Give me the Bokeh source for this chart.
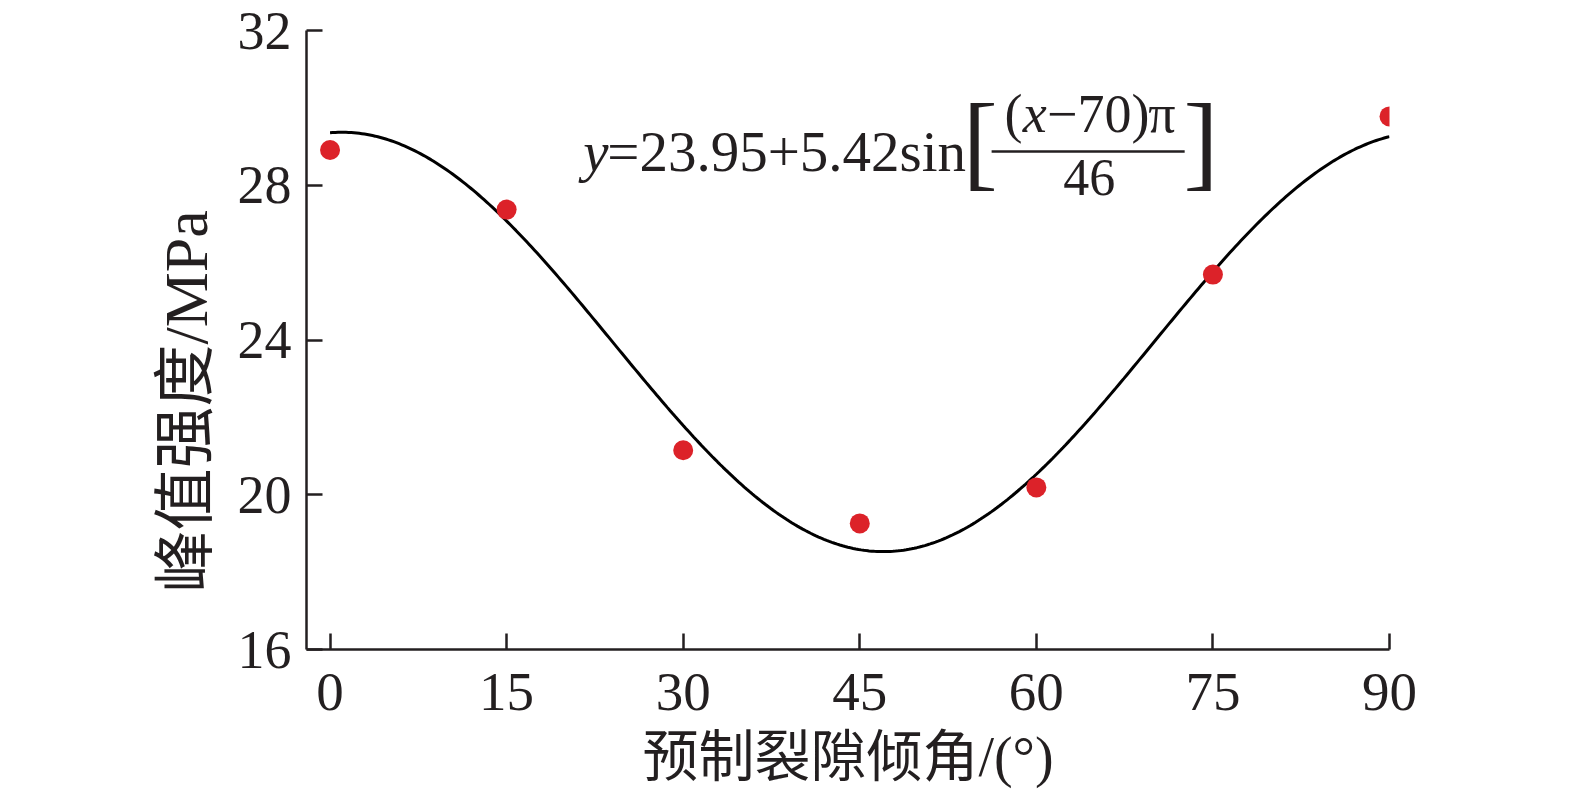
import numpy as np
from bokeh.plotting import figure
from bokeh.models import FixedTicker, Label, Title
from bokeh.embed import file_html
from bokeh.resources import INLINE

# ---- data ----
angles = [0, 15, 30, 45, 60, 75, 90]
strength = [28.91, 27.37, 21.15, 19.26, 20.19, 25.69, 29.78]
x_ticks = [0, 15, 30, 45, 60, 75, 90]
y_ticks = [16, 20, 24, 28, 32]
x_title = "预制裂隙倾角/(°)"
y_title = "峰值强度/MPa"
# fitted curve shown in the chart: y = A + B*sin[(x-C)*pi/D]
fit_A, fit_B, fit_C, fit_D = 23.95, 5.42, 70, 46

SERIF = "Liberation Serif, Noto Sans CJK SC"
INK = "#231f20"

p = figure(width=1572, height=790, x_range=(-2, 90), y_range=(16, 32),
           output_backend="svg", toolbar_location=None,
           min_border_left=306, min_border_right=183,
           min_border_top=30, min_border_bottom=140)
p.outline_line_color = None
p.grid.visible = False
p.background_fill_color = "white"
p.border_fill_color = "white"

for ax in (p.xaxis[0], p.yaxis[0]):
    ax.axis_line_width = 2.5
    ax.axis_line_color = INK
    ax.major_tick_line_width = 2.5
    ax.major_tick_line_color = INK
    ax.major_tick_in = 16
    ax.major_tick_out = 0
    ax.minor_tick_in = 0
    ax.minor_tick_out = 0
    ax.major_label_text_font = "Liberation Serif"
    ax.major_label_text_color = INK
p.xaxis.major_label_text_font_size = "55px"
p.yaxis.major_label_text_font_size = "54px"

p.xaxis.ticker = FixedTicker(ticks=x_ticks)
p.yaxis.ticker = FixedTicker(ticks=y_ticks)
p.xaxis.major_label_standoff = 24
p.yaxis.major_label_standoff = 15

p.xaxis.axis_label = x_title
p.xaxis.axis_label_text_font = SERIF
p.xaxis.axis_label_text_font_size = "56px"
p.xaxis.axis_label_text_font_style = "normal"
p.xaxis.axis_label_text_color = INK
p.xaxis.axis_label_standoff = 13

p.add_layout(Title(text=y_title, align="left", offset=57, standoff=30,
                   text_font=SERIF, text_font_size="62px",
                   text_font_style="normal", text_color=INK), "left")

# fitted curve
xf = np.linspace(min(angles), max(angles), 400)
yf = fit_A + fit_B * np.sin((xf - fit_C) * np.pi / fit_D)
p.line(xf, yf, line_color="black", line_width=3)

# measured points
p.scatter(angles, strength, size=20, fill_color="#dc2229", line_color=None)

# equation
eq_y = 28.88
p.add_layout(Label(x=21.5, y=eq_y, text="y", text_font="Liberation Serif",
                   text_font_style="italic", text_font_size="57px", text_color=INK,
                   text_align="left", text_baseline="alphabetic"))
p.add_layout(Label(x=23.55, y=eq_y, text="=23.95+5.42sin", text_font="Liberation Serif",
                   text_font_size="57px", text_color=INK,
                   text_align="left", text_baseline="alphabetic"))
br_y = 29.12
p.add_layout(Label(x=53.75, y=br_y, text="[", text_font="Liberation Serif",
                   text_font_size="105px", text_color=INK,
                   text_align="left", text_baseline="alphabetic"))
p.add_layout(Label(x=72.5, y=br_y, text="]", text_font="Liberation Serif",
                   text_font_size="105px", text_color=INK,
                   text_align="left", text_baseline="alphabetic"))
num_y = 29.85
p.add_layout(Label(x=57.3, y=num_y, text="(", text_font="Liberation Serif",
                   text_font_size="54px", text_color=INK, text_align="left",
                   text_baseline="alphabetic"))
p.add_layout(Label(x=58.85, y=num_y, text="x", text_font="Liberation Serif",
                   text_font_style="italic", text_font_size="54px", text_color=INK,
                   text_align="left", text_baseline="alphabetic"))
p.add_layout(Label(x=60.9, y=num_y, text="−70)", text_font="Liberation Serif",
                   text_font_size="54px", text_color=INK, text_align="left",
                   text_baseline="alphabetic"))
p.add_layout(Label(x=69.5, y=num_y, text="π", text_font="Liberation Serif",
                   text_font_size="54px", text_color=INK,
                   text_align="left", text_baseline="alphabetic"))
p.segment(x0=[56.2], y0=[28.87], x1=[72.6], y1=[28.87], line_color=INK, line_width=2.5)
p.add_layout(Label(x=64.5, y=28.2, text="46", text_font="Liberation Serif",
                   text_font_size="52px", text_color=INK, text_align="center",
                   text_baseline="alphabetic"))

open("out.html", "w").write(file_html(p, INLINE))
